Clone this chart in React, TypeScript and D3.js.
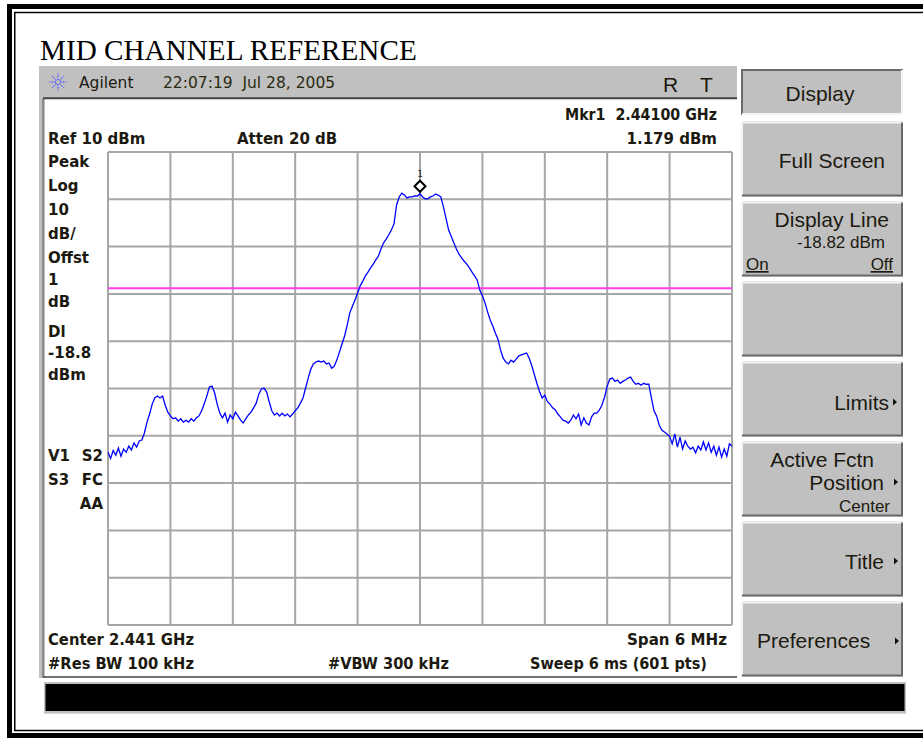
import React from 'react';
import * as d3 from 'd3';

// ---- data ----
const START_MHZ = 2438;
const STOP_MHZ = 2444;
const REF_DBM = 10;
const BOTTOM_DBM = -90;
const X_DIVISIONS = 10;
const Y_DIVISIONS = 10;
const DISPLAY_LINE_DBM = -18.82;
const MARKER_MHZ = 2441.0;
const MARKER_DBM = 1.179;

// trace (dBm), sampled every 0.025 MHz across the 6 MHz span
const traceDbm = [
  -53.5, -54.8, -53.1, -54.1, -52.6, -54.3, -52.8, -53.5, -52.2, -53.0, -51.5, -52.4, -51.1,
  -50.9, -49.4, -47.1, -45.4, -43.3, -42.0, -41.6, -42.0, -41.6, -43.5, -45.0, -45.8, -46.4,
  -46.2, -46.9, -46.4, -47.1, -46.7, -47.1, -46.4, -46.9, -46.2, -45.8, -44.7, -43.3, -41.6,
  -39.7, -39.5, -40.9, -43.3, -45.2, -46.2, -45.2, -47.1, -45.6, -46.4, -45.0, -45.8, -46.7,
  -47.3, -46.4, -45.6, -45.0, -44.1, -43.1, -41.2, -40.1, -39.9, -40.7, -42.8, -44.7, -45.6,
  -45.2, -45.8, -45.2, -45.8, -45.4, -46.0, -45.4, -44.7, -44.1, -43.1, -42.0, -39.9, -37.8,
  -35.9, -34.8, -34.4, -34.2, -34.4, -34.2, -34.8, -34.6, -35.7, -35.3, -34.0, -32.3, -30.6,
  -28.9, -26.6, -24.0, -22.6, -21.3, -19.8, -18.3, -17.3, -16.2, -15.4, -14.5, -13.7, -12.8,
  -12.0, -10.5, -9.2, -8.4, -7.5, -6.5, -5.2, -1.2, 0.5, 1.3, 0.9, 0.3, 0.5,
  0.5, 0.7, 0.7, 1.179, 0.5, 0.1, 0.1, 0.5, 0.7, 1.1, 0.9, 0.5, -1.6,
  -4.0, -6.5, -7.8, -9.2, -10.5, -11.6, -12.4, -13.1, -13.7, -14.5, -15.4, -16.2, -17.1,
  -19.2, -20.4, -21.9, -23.8, -25.5, -26.8, -28.3, -29.6, -31.9, -33.6, -34.4, -34.8, -34.0,
  -34.4, -33.8, -33.1, -32.9, -32.7, -32.5, -33.6, -35.2, -37.1, -39.0, -40.7, -42.0, -41.4,
  -42.8, -43.3, -44.1, -44.5, -45.4, -46.0, -46.7, -46.9, -47.3, -46.7, -45.6, -46.4, -45.4,
  -47.7, -46.2, -47.3, -47.7, -46.0, -45.2, -45.2, -44.5, -43.5, -41.8, -39.5, -38.0, -37.8,
  -38.5, -38.2, -38.9, -38.5, -38.2, -37.8, -37.6, -38.5, -39.1, -38.9, -39.3, -38.9, -39.1,
  -39.1, -42.0, -44.7, -45.8, -47.7, -48.8, -49.2, -49.6, -50.1, -51.7, -49.6, -52.4, -50.3,
  -52.8, -51.1, -52.2, -52.8, -52.4, -53.6, -52.2, -53.0, -51.3, -53.0, -51.5, -53.5, -52.2,
  -54.1, -52.4, -54.5, -52.8, -54.3, -51.7, -52.2,
];

const leftLabels = ['Peak', 'Log', '10', 'dB/', 'Offst', '1', 'dB', 'Dl', '-18.8', 'dBm'];
const leftLabelY = [167, 191, 215, 239, 263, 285, 307, 337, 358, 380];

const BOLD = "'DejaVu Sans', sans-serif";
const ARIAL = "'Liberation Sans', Arial, sans-serif";
const INK = '#1c1a10';

function Bevel({ x, y, w, h, sunken = false }: { x: number; y: number; w: number; h: number; sunken?: boolean }) {
  const light = sunken ? '#6a6a6a' : '#f4f4f4';
  const dark = sunken ? '#f4f4f4' : '#6a6a6a';
  return (
    <g>
      <rect x={x} y={y} width={w} height={h} fill="#c0c0c0" />
      <path d={`M${x + 1},${y + h} V${y + 1} H${x + w}`} fill="none" stroke={light} strokeWidth={2} />
      <path d={`M${x + 1},${y + h - 1} H${x + w - 1} V${y + 1}`} fill="none" stroke={dark} strokeWidth={2} />
    </g>
  );
}

function Arrow({ x, y }: { x: number; y: number }) {
  return <path d={`M${x},${y - 3.5} L${x + 4},${y} L${x},${y + 3.5} Z`} fill="#111" />;
}

export default function App() {
  const x = d3.scaleLinear().domain([START_MHZ, STOP_MHZ]).range([108, 732]);
  const y = d3.scaleLinear().domain([BOTTOM_DBM, REF_DBM]).range([625, 152]);
  const xGrid = d3.range(X_DIVISIONS + 1).map((i) => START_MHZ + (i * (STOP_MHZ - START_MHZ)) / X_DIVISIONS);
  const yGrid = d3.range(Y_DIVISIONS + 1).map((i) => BOTTOM_DBM + (i * (REF_DBM - BOTTOM_DBM)) / Y_DIVISIONS);
  const freqs = traceDbm.map((_, i) => START_MHZ + (i * (STOP_MHZ - START_MHZ)) / (traceDbm.length - 1));
  const line = d3
    .line<number>()
    .x((_, i) => x(freqs[i]))
    .y((d) => y(d));

  const mx = x(MARKER_MHZ);
  const my = y(MARKER_DBM) - 7.5;

  const buttons = [
    { y: 121.5, h: 75 },
    { y: 201.5, h: 75 },
    { y: 281.5, h: 75 },
    { y: 361.5, h: 75 },
    { y: 441.5, h: 75 },
    { y: 521.5, h: 75 },
    { y: 601.5, h: 75 },
  ];

  return (
    <svg
      width={923}
      height={738}
      style={{ position: 'absolute', left: 0, top: 0, background: '#fff' }}
    >
      <rect x={0} y={0} width={923} height={738} fill="#fff" />
      {/* double frame */}
      <rect x={9.5} y={6.5} width={930} height={729} fill="none" stroke="#000" strokeWidth={5} />
      <rect x={14.75} y={12.5} width={920} height={718} fill="none" stroke="#000" strokeWidth={1.5} />

      <text x={40} y={60} fontFamily="'Liberation Serif', 'Times New Roman', serif" fontSize={29.2} fill="#000">
        MID CHANNEL REFERENCE
      </text>

      {/* header bar */}
      <rect x={39} y={66} width={698} height={32} fill="#c0c0c0" />
      <rect x={39} y={66} width={6} height={612} fill="#c0c0c0" />
      <line x1={43} y1={99} x2={43} y2={677} stroke="#7a7a7a" strokeWidth={1.5} />
      <line x1={43} y1={98.3} x2={737} y2={98.3} stroke="#444" strokeWidth={2} />
      <line x1={43} y1={677} x2={737} y2={677} stroke="#444" strokeWidth={1.5} />

      {/* Agilent logo starburst */}
      <g stroke="#5a5aff" strokeWidth={1.3} strokeDasharray="1.6 1.2">
        {d3.range(8).map((i) => {
          const a = (i * Math.PI) / 4;
          return (
            <line key={i} x1={58 + Math.cos(a) * 2} y1={82 + Math.sin(a) * 2} x2={58 + Math.cos(a) * 8.5} y2={82 + Math.sin(a) * 8.5} />
          );
        })}
      </g>
      <text x={79} y={88} fontFamily={BOLD} fontSize={15.5} fill={INK}>Agilent</text>
      <text x={163} y={88} fontFamily={BOLD} fontSize={15.5} fill="#2a2a10" xmlSpace="preserve">22:07:19  Jul 28, 2005</text>
      <text x={663} y={92} fontFamily={ARIAL} fontSize={21} fill={INK}>R</text>
      <text x={700} y={92} fontFamily={ARIAL} fontSize={21} fill={INK}>T</text>

      {/* marker readout + header labels */}
      <g fontFamily={BOLD} fontWeight="bold" fontSize={15} fill={INK}>
        <text x={565} y={119.5} textLength={152} lengthAdjust="spacingAndGlyphs" xmlSpace="preserve">Mkr1  2.44100 GHz</text>
        <text x={717} y={143.5} textAnchor="end">1.179 dBm</text>
        <text x={48} y={143.5}>Ref 10 dBm</text>
        <text x={237} y={143.5}>Atten 20 dB</text>
        {leftLabels.map((t, i) => (
          <text key={i} x={48} y={leftLabelY[i]}>{t}</text>
        ))}
        <text x={48} y={461}>V1</text>
        <text x={103} y={461} textAnchor="end">S2</text>
        <text x={48} y={485}>S3</text>
        <text x={103} y={485} textAnchor="end">FC</text>
        <text x={103} y={508.5} textAnchor="end">AA</text>
        <text x={48} y={645} textLength={146} lengthAdjust="spacingAndGlyphs">Center 2.441 GHz</text>
        <text x={627} y={645} textLength={100} lengthAdjust="spacingAndGlyphs">Span 6 MHz</text>
        <text x={48} y={668.5} textLength={146} lengthAdjust="spacingAndGlyphs">#Res BW 100 kHz</text>
        <text x={328} y={668.5} textLength={121} lengthAdjust="spacingAndGlyphs">#VBW 300 kHz</text>
        <text x={530} y={668.5} textLength={177} lengthAdjust="spacingAndGlyphs">Sweep 6 ms (601 pts)</text>
      </g>

      {/* grid */}
      <g stroke="#a6a6a6" strokeWidth={2}>
        {xGrid.map((f, i) => (
          <line key={'x' + i} x1={x(f)} y1={y(REF_DBM)} x2={x(f)} y2={y(BOTTOM_DBM)} />
        ))}
        {yGrid.map((v, i) => (
          <line key={'y' + i} x1={x(START_MHZ)} y1={y(v)} x2={x(STOP_MHZ)} y2={y(v)} />
        ))}
      </g>

      {/* display line */}
      <line
        x1={x(START_MHZ)}
        x2={x(STOP_MHZ)}
        y1={y(DISPLAY_LINE_DBM)}
        y2={y(DISPLAY_LINE_DBM)}
        stroke="#ff3cf0"
        strokeWidth={2}
      />

      {/* trace */}
      <path d={line(traceDbm) || ''} fill="none" stroke="#0000ff" strokeWidth={1.3} strokeLinejoin="miter" />

      {/* marker */}
      <path
        d={`M${mx},${my - 5.5} L${mx + 5.5},${my} L${mx},${my + 5.5} L${mx - 5.5},${my} Z`}
        fill="#fff"
        stroke="#000"
        strokeWidth={2}
      />
      <text x={mx} y={my - 9} textAnchor="middle" fontFamily="'DejaVu Sans Mono', monospace" fontSize={9} fill="#222">1</text>

      {/* softkeys */}
      <Bevel x={741} y={69} w={162} h={46} sunken />
      {buttons.map((b, i) => (
        <Bevel key={i} x={741} y={b.y} w={162} h={b.h} />
      ))}
      <g fontFamily={ARIAL} fill={INK}>
        <text x={820} y={101} textAnchor="middle" fontSize={21}>Display</text>
        <text x={885} y={168} textAnchor="end" fontSize={21}>Full Screen</text>
        <text x={889} y={226.5} textAnchor="end" fontSize={21}>Display Line</text>
        <text x={885} y={248} textAnchor="end" fontSize={17}>-18.82 dBm</text>
        <text x={746} y={270} fontSize={17} textDecoration="underline">On</text>
        <text x={893} y={270} textAnchor="end" fontSize={17} textDecoration="underline">Off</text>
        <text x={889} y={410} textAnchor="end" fontSize={21}>Limits</text>
        <text x={874} y={466.5} textAnchor="end" fontSize={21}>Active Fctn</text>
        <text x={884} y={490} textAnchor="end" fontSize={21}>Position</text>
        <text x={890} y={512} textAnchor="end" fontSize={17}>Center</text>
        <text x={884} y={569} textAnchor="end" fontSize={21}>Title</text>
        <text x={757} y={648} fontSize={21}>Preferences</text>
      </g>
      <Arrow x={893} y={402} />
      <Arrow x={894} y={482} />
      <Arrow x={894} y={561} />
      <Arrow x={895} y={641} />

      {/* message bar */}
      <rect x={44} y={682} width={862} height={31} fill="#c0c0c0" />
      <rect x={45.5} y={684} width={859} height={27} fill="#000" />
      <line x1={44} y1={713.5} x2={906} y2={713.5} stroke="#d8d8d8" strokeWidth={1} />
    </svg>
  );
}
